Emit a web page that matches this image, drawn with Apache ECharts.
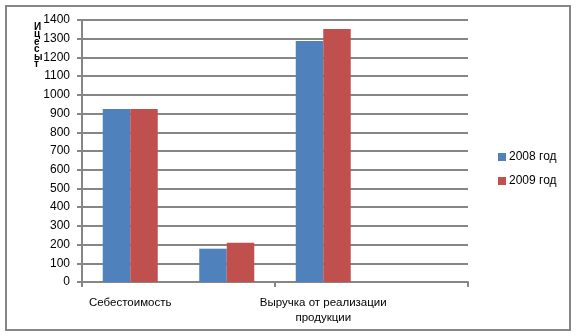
<!DOCTYPE html>
<html><head><meta charset="utf-8">
<script src="https://cdn.jsdelivr.net/npm/echarts@6/dist/echarts.min.js"></script>
<style>html,body{margin:0;padding:0;background:#fff}#c{width:576px;height:336px}</style>
</head><body><div id="c"></div>
<script>
const categories = ["Себестоимость", "", "Выручка от реализации продукции", ""];
const series2008 = [925, 178, 1288, null];
const series2009 = [925, 210, 1352, null];
const seriesNames = ["2008 год", "2009 год"];
const yTicks = {min: 0, max: 1400, interval: 100};
const axisTitleGlyphs = ["И", "ц", "е", "с", "ы", "т"];

const chart = echarts.init(document.getElementById('c'), null, {renderer: 'canvas'});
const grey = '#868686';
const font = '"Liberation Sans", Arial, sans-serif';
chart.setOption({
  animation: false,
  backgroundColor: '#fff',
  grid: {left: 82, right: 108, top: 20, bottom: 54, containLabel: false},
  legend: {
    orient: 'vertical', left: 493, top: 146, padding: 5,
    itemWidth: 8, itemHeight: 8, itemGap: 12,
    icon: 'rect',
    textStyle: {fontFamily: font, fontSize: 12, color: '#000', padding: [0, 0, 0, -2]},
    data: seriesNames
  },
  xAxis: {
    type: 'category', data: categories,
    axisLine: {lineStyle: {color: grey, width: 2}},
    axisTick: {show: true, length: 5, lineStyle: {color: grey, width: 2}},
    axisLabel: {interval: 1, margin: 13, color: '#000', fontFamily: font, fontSize: 11.5,
      lineHeight: 15, overflow: 'none', hideOverlap: false,
      formatter: function (v) { return v.replace(' продукции', '\nпродукции'); }}
  },
  yAxis: {
    type: 'value', min: yTicks.min, max: yTicks.max, interval: yTicks.interval,
    axisLine: {show: true, lineStyle: {color: grey, width: 2}},
    axisTick: {show: true, length: 5, lineStyle: {color: grey, width: 2}},
    splitLine: {lineStyle: {color: grey, width: 2}},
    axisLabel: {margin: 12, color: '#000', fontFamily: font, fontSize: 12,
      formatter: function (v) { return String(v); }}
  },
  series: [
    {name: seriesNames[0], type: 'bar', data: series2008, itemStyle: {color: '#4F81BD'},
      barGap: '0%', barCategoryGap: '43%'},
    {name: seriesNames[1], type: 'bar', data: series2009, itemStyle: {color: '#C0504D'},
      barGap: '0%', barCategoryGap: '43%'}
  ],
  graphic: [
    {type: 'rect', shape: {x: 6, y: 6, width: 564, height: 324}, style: {fill: null, stroke: grey, lineWidth: 2}, silent: true, z: 100},
    {type: 'text', left: 34, top: 22, style: {text: axisTitleGlyphs.join('\n'), font: 'bold 10px ' + font, lineHeight: 7.5, fill: '#000', align: 'center'}}
  ]
});
</script></body></html>
